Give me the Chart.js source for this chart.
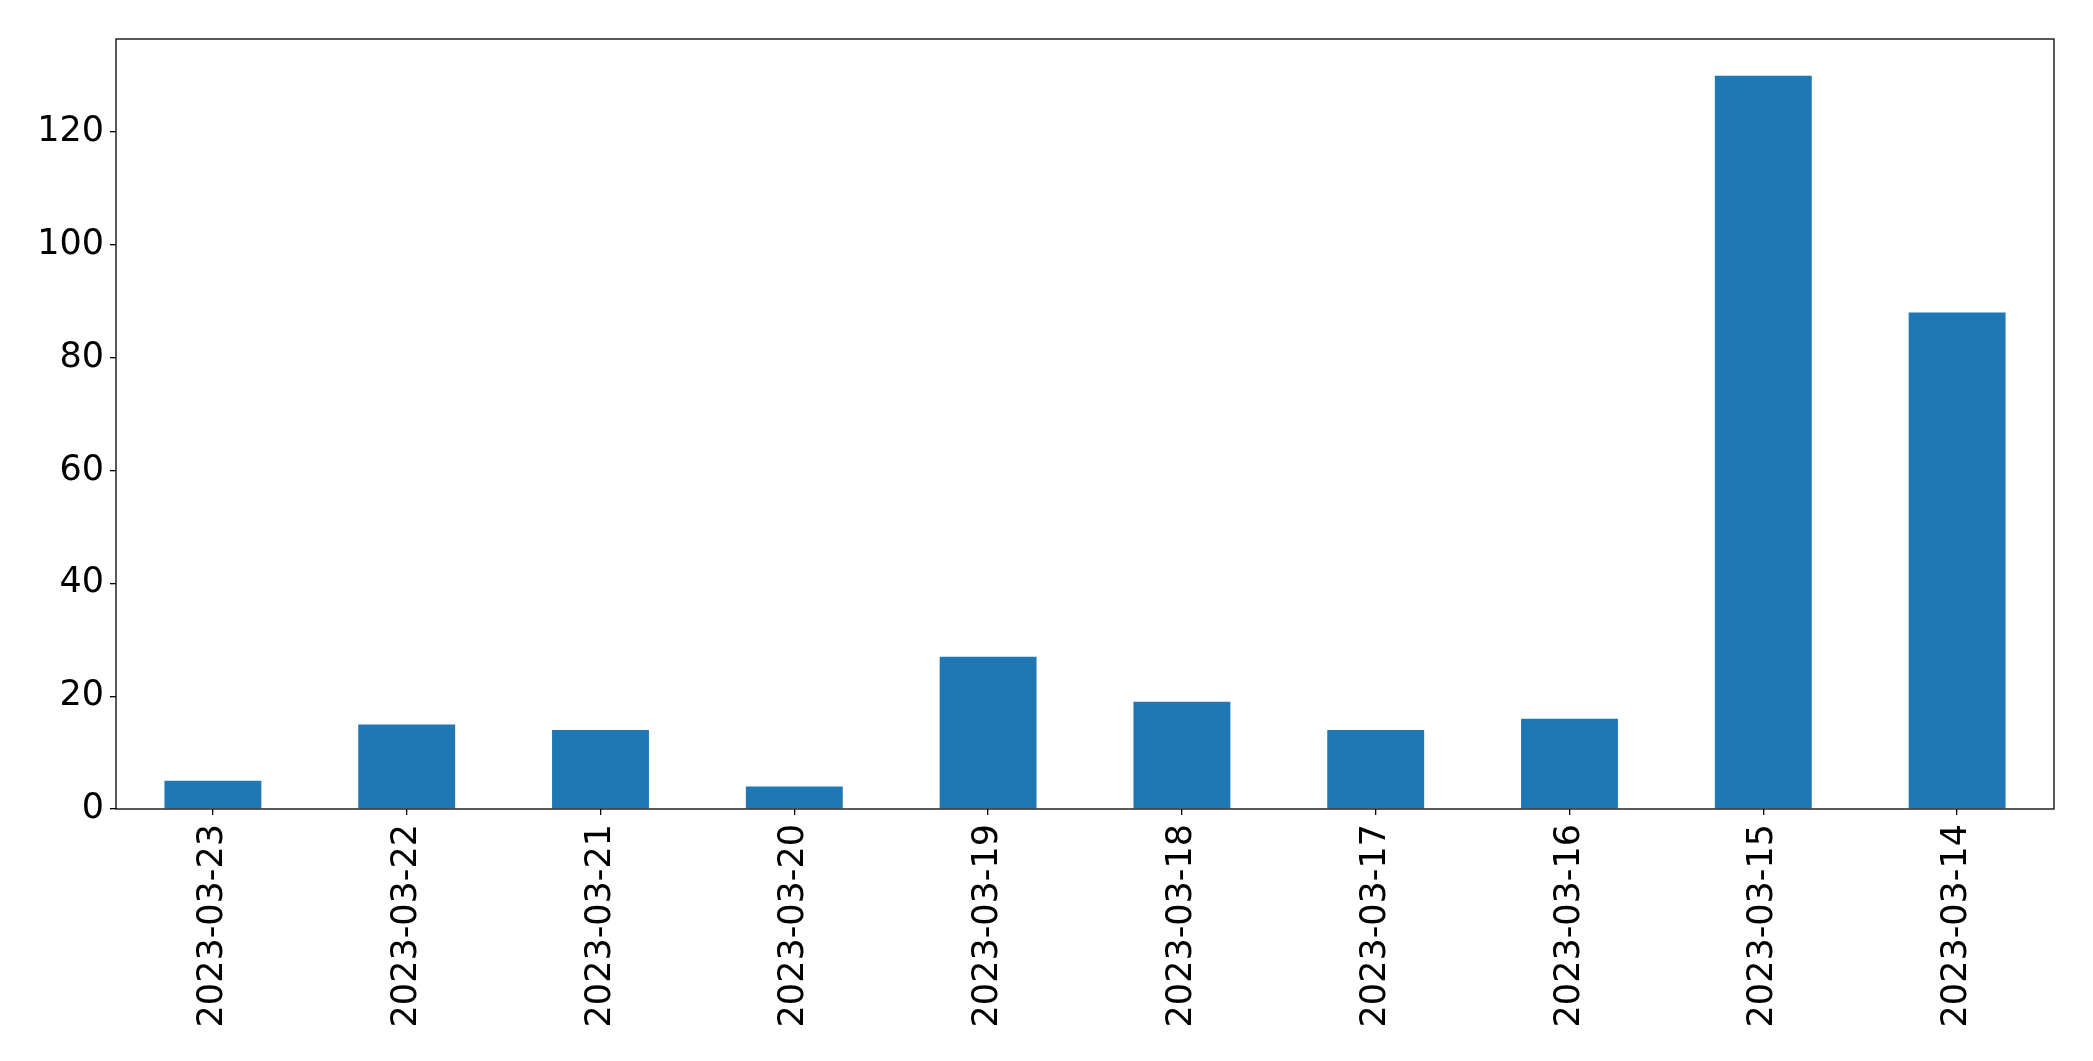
<!DOCTYPE html>
<html>
<head>
<meta charset="utf-8">
<script src="https://cdn.jsdelivr.net/npm/chart.js@4/dist/chart.umd.min.js"></script>
<style>
  html, body { margin: 0; padding: 0; background: #fff; }
  #wrap { width: 2093px; height: 1061px; }
</style>
</head>
<body>
<div id="wrap"><canvas id="dailyChart" width="2093" height="1061"></canvas></div>
<script>
const dates = ['2023-03-23', '2023-03-22', '2023-03-21', '2023-03-20', '2023-03-19',
               '2023-03-18', '2023-03-17', '2023-03-16', '2023-03-15', '2023-03-14'];
const counts = [5, 15, 14, 4, 27, 19, 14, 16, 130, 88];
const yTicks = [0, 20, 40, 60, 80, 100, 120];

// draws the black frame round the plot area, like matplotlib's spines
const frame = {
    id: 'frame',
    afterDatasetsDraw(chart) {
        const { ctx, chartArea: a } = chart;
        ctx.save();
        ctx.strokeStyle = '#000';
        ctx.lineWidth = 1.3;
        ctx.strokeRect(a.left, a.top, a.right - a.left, a.bottom - a.top);
        ctx.restore();
    }
};

const ctx = document.getElementById('dailyChart').getContext('2d');

const dailyChart = new Chart(ctx, {
    type: 'bar',
    data: {
        labels: dates,
        datasets: [{
            data: counts,
            backgroundColor: '#1f77b4',
            categoryPercentage: 1.0,
            barPercentage: 0.5,
        }]
    },
    options: {
        responsive: false,
        animation: false,
        layout: { padding: { top: 39, right: 39, left: 0, bottom: 0 } },
        plugins: {
            legend: { display: false },
            tooltip: { enabled: false }
        },
        scales: {
            x: {
                grid: { offset: false, drawOnChartArea: false, drawTicks: true, tickLength: 6, color: '#000', lineWidth: 1.3 },
                border: { display: false },
                ticks: {
                    minRotation: 90,
                    maxRotation: 90,
                    autoSkip: false,
                    padding: 9,
                    color: '#000',
                    font: { family: 'DejaVu Sans', size: 35 }
                },
                afterFit(scale) { scale.height = 252; }
            },
            y: {
                min: 0,
                max: 136.5,
                afterBuildTicks(scale) {
                    scale.ticks = yTicks.map(v => ({ value: v }));
                },
                grid: { drawOnChartArea: false, drawTicks: true, tickLength: 6, color: '#000', lineWidth: 1.3 },
                border: { display: false },
                ticks: {
                    padding: 6,
                    color: '#000',
                    font: { family: 'DejaVu Sans', size: 35 }
                },
                afterFit(scale) { scale.width = 116; }
            }
        }
    },
    plugins: [frame]
});
</script>
</body>
</html>
